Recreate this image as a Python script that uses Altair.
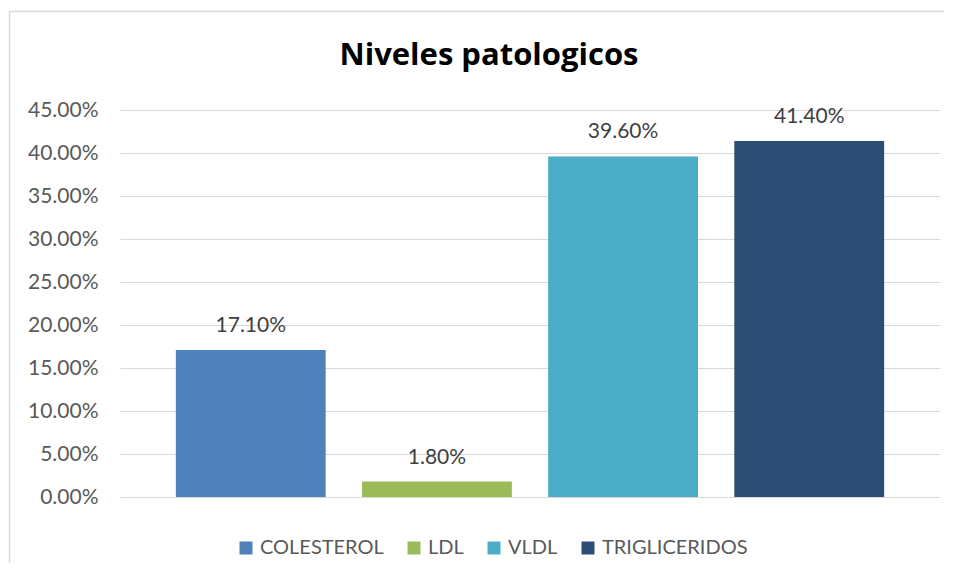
import altair as alt
import pandas as pd

categories = ["COLESTEROL", "LDL", "VLDL", "TRIGLICERIDOS"]
values = [0.171, 0.018, 0.396, 0.414]
colors = ["#4F81BD", "#9BBB59", "#4BACC6", "#2C4D75"]
y_ticks = [0.0, 0.05, 0.10, 0.15, 0.20, 0.25, 0.30, 0.35, 0.40, 0.45]

df = pd.DataFrame({"cat": categories, "val": values})

FONT = "Lato"
GREY = "#595959"

x_enc = alt.X("cat:N", sort=categories,
              scale=alt.Scale(paddingInner=0.195, paddingOuter=0.30),
              axis=None)
y_enc = alt.Y("val:Q",
              scale=alt.Scale(domain=[0, 0.45], nice=False),
              axis=alt.Axis(values=y_ticks, format=".2%", title=None,
                            ticks=False, tickSize=0, domain=False,
                            labelPadding=22, labelFontSize=21, labelFont=FONT,
                            labelColor=GREY, gridColor="#d9d9d9", gridWidth=1))

bars = alt.Chart(df).mark_bar().encode(
    x=x_enc,
    y=y_enc,
    color=alt.Color("cat:N", sort=categories,
                    scale=alt.Scale(domain=categories, range=colors),
                    legend=alt.Legend(title=None, orient="none", direction="horizontal",
                                      legendX=116, legendY=428, columns=4,
                                      symbolType="square", symbolSize=169,
                                      symbolStrokeWidth=0, labelFont=FONT,
                                      labelFontSize=20, labelColor=GREY,
                                      labelOffset=4, columnPadding=20, padding=0,
                                      labelLimit=300)),
)

labels = alt.Chart(df).mark_text(dy=-18, baseline="alphabetic", font=FONT,
                                 fontSize=21, color="#404040").encode(
    x=alt.X("cat:N", sort=categories),
    y=alt.Y("val:Q"),
    text=alt.Text("val:Q", format=".2%"),
)

border = alt.Chart(pd.DataFrame({"a": [0]})).mark_rect(
    fill=None, stroke="#d9d9d9", strokeWidth=1.5).encode(
    x=alt.value(-110.5), x2=alt.value(860),
    y=alt.value(-98.5), y2=alt.value(480),
)

chart = alt.layer(border, bars, labels).properties(
    width=820, height=387,
    title=alt.TitleParams("Niveles patologicos", fontSize=31, font="Open Sans",
                          fontWeight="bold", color="#000000", anchor="middle",
                          frame="group", dx=-41, offset=-61),
    autosize=alt.AutoSizeParams(type="none"),
    padding={"left": 112, "top": 102, "right": 4, "bottom": 66},
).configure_view(stroke=None).configure_axis(grid=True)

chart.save("out.html", embed_options={"renderer": "svg", "actions": False})
